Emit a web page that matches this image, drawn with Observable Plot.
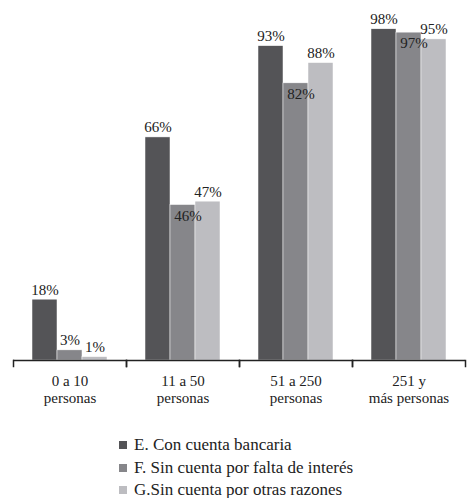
<!DOCTYPE html>
<html>
<head>
<meta charset="utf-8">
<script src="https://cdn.jsdelivr.net/npm/d3@7"></script>
<script src="https://cdn.jsdelivr.net/npm/@observablehq/plot@0.6"></script>
<style>
  html, body { margin: 0; padding: 0; background: #fff; }
  #chart { width: 468px; }
  .legend { margin-top: 4px; padding-left: 119px; font-family: "Liberation Serif", "Times New Roman", Times, "DejaVu Serif", serif; font-size: 17px; color: #222; }
  .legend .row { height: 22.5px; line-height: 22.5px; display: flex; align-items: center; white-space: nowrap; }
  .legend .sw { width: 8px; height: 8px; margin-right: 7px; flex: none; }
</style>
</head>
<body>
<div id="chart"></div>
<script>
// Company size groups (x facets) and series
const groups = ["0 a 10\npersonas", "11 a 50\npersonas", "51 a 250\npersonas", "251 y\nmás personas"];
const seriesNames = ["E. Con cuenta bancaria", "F. Sin cuenta por falta de interés", "G.Sin cuenta por otras razones"];

// Percentages per group
const conCuenta = [18, 66, 93, 98];
const faltaInteres = [3, 46, 82, 97];
const otrasRazones = [1, 47, 88, 95];

const colors = ["#545457", "#86868a", "#bdbdc1"];

const seriesValues = [conCuenta, faltaInteres, otrasRazones];
const rows = [];
groups.forEach((g, gi) => {
  seriesNames.forEach((s, si) => {
    rows.push({group: g, series: s, value: seriesValues[si][gi]});
  });
});

// Middle-series labels sit inside the bar top when the bar is tall
const isInside = d => d.series === seriesNames[1] && d.value >= 40;

const fmt = d => d.value + "%";

const serif = "'Liberation Serif', 'Times New Roman', Times, 'DejaVu Serif', serif";

const chart = Plot.plot({
  width: 468,
  height: 430,
  marginLeft: 13,
  marginRight: 3,
  marginTop: 22,
  marginBottom: 70,
  style: {fontFamily: serif, fontSize: "15px", color: "#222", background: "#fff"},
  fx: {domain: groups, padding: 0, label: null},
  x: {domain: seriesNames, paddingInner: 0, paddingOuter: 0.76, axis: null},
  y: {domain: [0, 100], axis: null},
  color: {domain: seriesNames, range: colors},
  marks: [
    Plot.barY(rows, {fx: "group", x: "series", y: "value", fill: "series", stroke: "#fff", strokeWidth: 0.5}),
    Plot.ruleY([0], {stroke: "#222", strokeWidth: 1.5}),
    Plot.frame({anchor: "left", insetTop: 338, insetBottom: -6, stroke: "#222", strokeWidth: 1.5}),
    Plot.frame({anchor: "right", insetTop: 338, insetBottom: -6, stroke: "#222", strokeWidth: 1.5}),
    Plot.text(rows.filter(d => !isInside(d)), {
      fx: "group", x: "series", y: "value", text: fmt,
      lineAnchor: "bottom", dy: -5, fill: "#222", fontFamily: serif
    }),
    Plot.text(rows.filter(isInside), {
      fx: "group", x: "series", y: "value", text: fmt,
      lineAnchor: "top", dy: 5, dx: 5, fill: "#222", fontFamily: serif
    }),
    Plot.axisFx({anchor: "bottom", tickSize: 0, tickPadding: 14, lineHeight: 1.1, fontSize: 15, label: null, fill: "#222", fontFamily: serif})
  ]
});
document.getElementById("chart").appendChild(chart);

// Legend below the plot
const legend = document.createElement("div");
legend.className = "legend";
seriesNames.forEach((s, i) => {
  const row = document.createElement("div");
  row.className = "row";
  const sw = document.createElement("span");
  sw.className = "sw";
  sw.style.background = colors[i];
  const label = document.createElement("span");
  label.textContent = s;
  row.appendChild(sw);
  row.appendChild(label);
  legend.appendChild(row);
});
document.getElementById("chart").appendChild(legend);
</script>
</body>
</html>
